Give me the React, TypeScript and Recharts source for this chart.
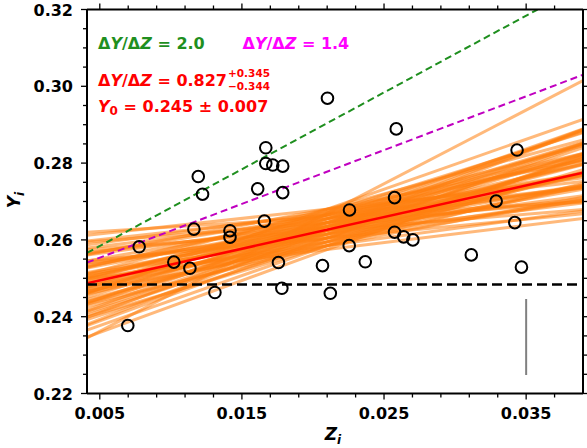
import React from 'react';
import { ComposedChart, XAxis, YAxis, Line, Scatter } from 'recharts';

// Observed data points (Z_i, Y_i)
const pointZ = [
  0.00697, 0.00777, 0.01021, 0.01134, 0.01162, 0.01193, 0.01223, 0.0131, 0.01416, 0.01416,
  0.01611, 0.01668, 0.01668, 0.01717, 0.01787, 0.01787, 0.01658, 0.01757, 0.01781, 0.02067,
  0.02102, 0.02122, 0.02257, 0.02255, 0.02368, 0.02586, 0.02574, 0.02574, 0.02638, 0.02703,
  0.03114, 0.03289, 0.0342, 0.03436, 0.03467,
];
const pointY = [
  0.2377, 0.2582, 0.2542, 0.2526, 0.2628, 0.2765, 0.2719, 0.2463, 0.2624, 0.2607,
  0.2733, 0.284, 0.2799, 0.2795, 0.2792, 0.2723, 0.2649, 0.2541, 0.2474, 0.2533,
  0.2969, 0.2461, 0.2678, 0.2585, 0.2543, 0.2889, 0.271, 0.262, 0.2608, 0.26,
  0.2561, 0.2701, 0.2645, 0.2834, 0.2529,
];

// Monte-Carlo fit lines: Y at the left and right edge of the plot
const mcZ = [0.0041, 0.039];
const mcLeftY = [
  0.25005, 0.24667, 0.24329, 0.23991, 0.23653,
  0.25458, 0.2512, 0.24783, 0.24445, 0.24107, 0.23769,
  0.25743, 0.25405, 0.25152, 0.24898, 0.24645, 0.24391, 0.24138, 0.238,
  0.25943, 0.25605, 0.25267, 0.25013, 0.2476, 0.24507, 0.24169,
  0.25974, 0.25636, 0.25298, 0.2496, 0.24622,
  0.26124, 0.25617, 0.2511, 0.24603,
  0.2499, 0.23469, 0.262, 0.2345,
  0.24936, 0.24598, 0.2426, 0.23922,
  0.2539, 0.25052, 0.24714, 0.24376, 0.24038,
  0.25674, 0.25336, 0.25083, 0.24829, 0.24576, 0.24322, 0.23984,
  0.2579, 0.25452, 0.25029, 0.24691, 0.24353,
  0.25875, 0.25284, 0.24777,
];
const mcRightY = [
  0.2675, 0.2711, 0.2747, 0.2783, 0.2819,
  0.2668, 0.2704, 0.274, 0.2776, 0.2812, 0.2848,
  0.2679, 0.2715, 0.2742, 0.2769, 0.2796, 0.2823, 0.285, 0.2886,
  0.2699, 0.2735, 0.2771, 0.2798, 0.2825, 0.2852, 0.2888,
  0.2737, 0.2773, 0.2809, 0.2845, 0.2881,
  0.2752, 0.2806, 0.286, 0.2914,
  0.2656, 0.2818, 0.27, 0.3015,
  0.2703, 0.2739, 0.2775, 0.2811,
  0.2696, 0.2732, 0.2768, 0.2804, 0.284,
  0.2707, 0.2743, 0.277, 0.2797, 0.2824, 0.2851, 0.2887,
  0.2736, 0.2772, 0.2817, 0.2853, 0.2889,
  0.2762, 0.2825, 0.2879,
];

// Best fit and reference lines
const fitZ = [0.0041, 0.039];
const fitY = [0.2487, 0.2775];
const baseZ = [0.0041, 0.039];
const baseY = [0.2484, 0.2484];
const greenZ = [0.0041, 0.0358];
const greenY = [0.2566, 0.32];
const magentaZ = [0.0041, 0.039];
const magentaY = [0.2541, 0.303];
const errZ = [0.035, 0.035];
const errY = [0.2446, 0.2248];

const xMajorTicks = [0.005, 0.015, 0.025, 0.035];
const xAllTicks = [
  0.005, 0.007, 0.009, 0.011, 0.013, 0.015, 0.017, 0.019, 0.021, 0.023, 0.025, 0.027,
  0.029, 0.031, 0.033, 0.035, 0.037,
];
const yMajorTicks = [0.22, 0.24, 0.26, 0.28, 0.3, 0.32];
const yAllTicks = [
  0.22, 0.225, 0.23, 0.235, 0.24, 0.245, 0.25, 0.255, 0.26, 0.265, 0.27, 0.275, 0.28,
  0.285, 0.29, 0.295, 0.3, 0.305, 0.31, 0.315, 0.32,
];

const X_DOMAIN: [number, number] = [0.0041, 0.039];
const Y_DOMAIN: [number, number] = [0.22, 0.32];
const FONT = "'DejaVu Sans', sans-serif";

const isMajor = (list: number[], v: number) => list.some((t) => Math.abs(t - v) < 1e-9);

const seg = (zs: number[], ys: number[]) => zs.map((z, i) => ({ x: z, y: ys[i] }));
const points = pointZ.map((z, i) => ({ x: z, y: pointY[i] }));
const mcLines = mcLeftY.map((l, i) => seg(mcZ, [l, mcRightY[i]]));

const BottomTick = (p: any) => {
  const major = isMajor(xMajorTicks, p.payload.value);
  return (
    <g>
      <line x1={p.x} x2={p.x} y1={p.y} y2={p.y + (major ? 6 : 4)} stroke="#000" strokeWidth={1.3} />
      {major && (
        <text x={p.x} y={p.y + 25} textAnchor="middle" fontFamily={FONT} fontWeight="bold" fontSize={16} fill="#000">
          {p.payload.value.toFixed(3)}
        </text>
      )}
    </g>
  );
};
const TopTick = (p: any) => {
  const major = isMajor(xMajorTicks, p.payload.value);
  return <line x1={p.x} x2={p.x} y1={p.y} y2={p.y - (major ? 6 : 4)} stroke="#000" strokeWidth={1.3} />;
};
const LeftTick = (p: any) => {
  const major = isMajor(yMajorTicks, p.payload.value);
  return (
    <g>
      <line x1={p.x} x2={p.x - (major ? 6 : 4)} y1={p.y} y2={p.y} stroke="#000" strokeWidth={1.3} />
      {major && (
        <text x={p.x - 14} y={p.y + 6} textAnchor="end" fontFamily={FONT} fontWeight="bold" fontSize={16} fill="#000">
          {p.payload.value.toFixed(2)}
        </text>
      )}
    </g>
  );
};
const RightTick = (p: any) => {
  const major = isMajor(yMajorTicks, p.payload.value);
  return <line x1={p.x} x2={p.x + (major ? 6 : 4)} y1={p.y} y2={p.y} stroke="#000" strokeWidth={1.3} />;
};

const Circle = (p: any) => (
  <circle cx={p.cx} cy={p.cy} r={5.8} fill="none" stroke="#000" strokeWidth={2} />
);

const axisLine = { stroke: '#000', strokeWidth: 2 };

export default function App() {
  return (
    <div style={{ position: 'absolute', left: 0, top: 0, width: 587, height: 448, background: '#fff' }}>
      <ComposedChart width={587} height={448} margin={{ top: 4.5, right: 0, bottom: 24.5, left: 7 }}>
        <XAxis
          xAxisId={0}
          type="number"
          dataKey="x"
          domain={X_DOMAIN}
          allowDataOverflow
          ticks={xAllTicks}
          interval={0}
          tickSize={0}
          tickMargin={0}
          tickLine={false}
          axisLine={axisLine}
          tick={(p: any) => <BottomTick {...p} />}
          height={30}
        />
        <XAxis
          xAxisId="top"
          orientation="top"
          type="number"
          dataKey="x"
          domain={X_DOMAIN}
          allowDataOverflow
          ticks={xAllTicks}
          interval={0}
          tickSize={0}
          tickMargin={0}
          tickLine={false}
          axisLine={axisLine}
          tick={(p: any) => <TopTick {...p} />}
          height={5}
        />
        <YAxis
          yAxisId={0}
          type="number"
          dataKey="y"
          domain={Y_DOMAIN}
          allowDataOverflow
          ticks={yAllTicks}
          interval={0}
          tickSize={0}
          tickMargin={0}
          tickLine={false}
          axisLine={axisLine}
          tick={(p: any) => <LeftTick {...p} />}
          width={80}
        />
        <YAxis
          yAxisId="right"
          orientation="right"
          type="number"
          dataKey="y"
          domain={Y_DOMAIN}
          allowDataOverflow
          ticks={yAllTicks}
          interval={0}
          tickSize={0}
          tickMargin={0}
          tickLine={false}
          axisLine={axisLine}
          tick={(p: any) => <RightTick {...p} />}
          width={4}
        />
        {mcLines.map((d, i) => (
          <Line
            key={'mc' + i}
            data={d}
            dataKey="y"
            stroke="#ff7f0e"
            strokeOpacity={0.55}
            strokeWidth={3}
            dot={false}
            activeDot={false}
            isAnimationActive={false}
          />
        ))}
        <Line data={seg(fitZ, fitY)} dataKey="y" stroke="#ff0000" strokeWidth={2.5} dot={false} activeDot={false} isAnimationActive={false} />
        <Line data={seg(baseZ, baseY)} dataKey="y" stroke="#000" strokeWidth={2.5} strokeDasharray="10 5" dot={false} activeDot={false} isAnimationActive={false} />
        <Line data={seg(greenZ, greenY)} dataKey="y" stroke="#1f8f1f" strokeWidth={2} strokeDasharray="7 4" dot={false} activeDot={false} isAnimationActive={false} />
        <Line data={seg(magentaZ, magentaY)} dataKey="y" stroke="#c000c0" strokeWidth={2} strokeDasharray="7 4" dot={false} activeDot={false} isAnimationActive={false} />
        <Line data={seg(errZ, errY)} dataKey="y" stroke="#808080" strokeWidth={2} dot={false} activeDot={false} isAnimationActive={false} />
        <Scatter data={points} dataKey="y" shape={Circle} isAnimationActive={false} />
      </ComposedChart>
      <svg width={587} height={448} style={{ position: 'absolute', left: 0, top: 0, pointerEvents: 'none' }}>
        <g fontFamily={FONT} fontWeight="bold">
          <text x={98} y={48.5} fontSize={16} fill="#1f8f1f">
            Δ<tspan fontStyle="italic">Y</tspan>/Δ<tspan fontStyle="italic">Z</tspan> = 2.0
          </text>
          <text x={242.5} y={48.5} fontSize={16} fill="#ff00ff">
            Δ<tspan fontStyle="italic">Y</tspan>/Δ<tspan fontStyle="italic">Z</tspan> = 1.4
          </text>
          <text x={98} y={86} fontSize={16} fill="#ff0000">
            Δ<tspan fontStyle="italic">Y</tspan>/Δ<tspan fontStyle="italic">Z</tspan> = 0.827
          </text>
          <text x={228} y={76.5} fontSize={10.5} fill="#ff0000">+0.345</text>
          <text x={228} y={90} fontSize={10.5} fill="#ff0000">−0.344</text>
          <text x={98} y={111.5} fontSize={16} fill="#ff0000">
            <tspan fontStyle="italic">Y</tspan>
            <tspan fontSize={12} dy={3.5}>0</tspan>
            <tspan dy={-3.5}> = 0.245 ± 0.007</tspan>
          </text>
          <text x={0} y={0} fontSize={17} fill="#000" transform="translate(20,200) rotate(-90)" textAnchor="middle">
            <tspan fontStyle="italic">Y</tspan>
            <tspan fontSize={12} fontStyle="italic" dy={4}>i</tspan>
          </text>
          <text x={333} y={440} fontSize={17} fill="#000" textAnchor="middle">
            <tspan fontStyle="italic">Z</tspan>
            <tspan fontSize={12} fontStyle="italic" dy={4}>i</tspan>
          </text>
        </g>
      </svg>
    </div>
  );
}
